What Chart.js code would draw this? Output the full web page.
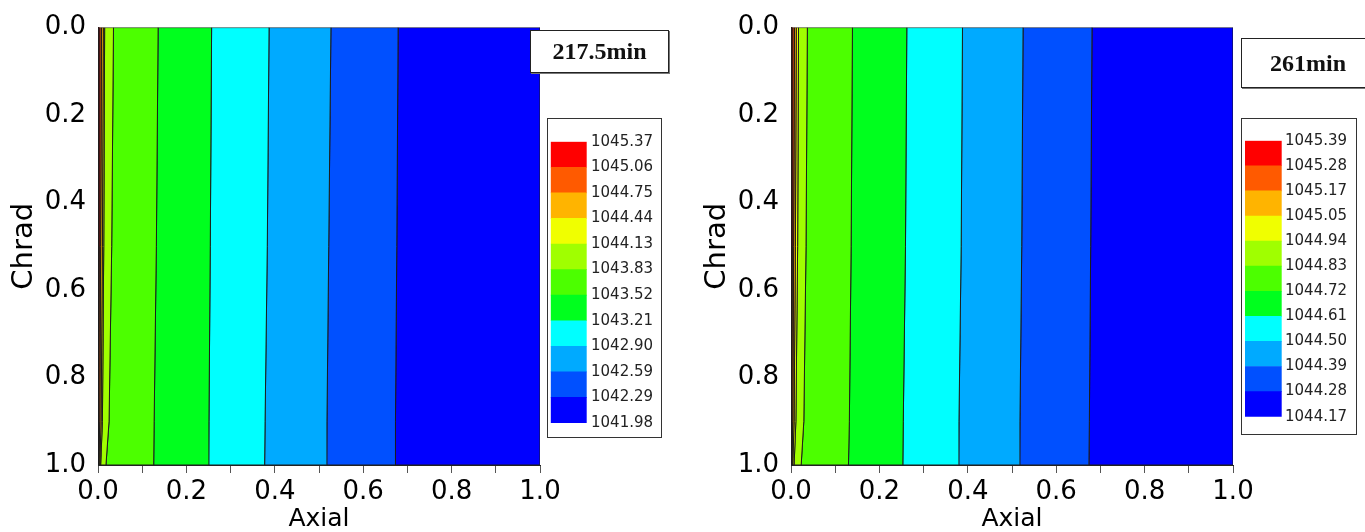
<!DOCTYPE html>
<html>
<head>
<meta charset="utf-8">
<script src="https://cdn.jsdelivr.net/npm/chart.js@4.4.1/dist/chart.umd.min.js"></script>
<style>
  html, body { margin: 0; padding: 0; background: #fff; }
  body { width: 1365px; height: 532px; position: relative; overflow: hidden; }
  canvas { position: absolute; }
  .stamp {
    position: absolute; box-sizing: border-box;
    border: 1px solid #222; box-shadow: 1px 1px 0 #777; background: #fff;
    font: bold 24px "Liberation Serif", "Times New Roman", serif; color: #111;
    display: flex; align-items: center; justify-content: center;
  }
  .keybox { position: absolute; box-sizing: border-box; border: 1px solid #333; background: #fff; }
</style>
</head>
<body>
<canvas id="plot217" width="578" height="532" style="left:0;top:0"></canvas>
<canvas id="plot261" width="578" height="532" style="left:693px;top:0"></canvas>

<div class="stamp" style="left:530px;top:30px;width:139px;height:43px">217.5min</div>
<div class="stamp" style="left:1241px;top:38px;width:134px;height:50px">261min</div>

<div class="keybox" style="left:547px;top:118px;width:115px;height:320px">
  <canvas id="key217" width="113" height="318" style="left:0;top:0"></canvas>
</div>
<div class="keybox" style="left:1241px;top:118px;width:116px;height:317px">
  <canvas id="key261" width="114" height="315" style="left:0;top:0"></canvas>
</div>

<script>
// contour band colours, hot side (left of plot / top of key) first
const bandColors = ['#ff0000', '#ff5a00', '#ffb400', '#f0ff00', '#a0ff00', '#4cff00',
                    '#00ff1e', '#00ffff', '#00aaff', '#0050ff', '#0000ff'];

const chradLevels = [0, 0.5, 0.9, 1];

// 217.5 min: axial position of the 10 contour lines at each chrad level
const lines217Top    = [0.004, 0.008, 0.012, 0.015, 0.035, 0.136, 0.257, 0.387, 0.527, 0.679];
const lines217Mid    = [0.003, 0.006, 0.010, 0.013, 0.031, 0.132, 0.254, 0.383, 0.522, 0.676];
const lines217Low    = [0.002, 0.004, 0.007, 0.010, 0.025, 0.127, 0.251, 0.378, 0.518, 0.673];
const lines217Bottom = [0.001, 0.002, 0.004, 0.006, 0.018, 0.126, 0.250, 0.377, 0.517, 0.672];

// 261 min
const lines261Top    = [0.004, 0.008, 0.012, 0.017, 0.037, 0.139, 0.262, 0.388, 0.525, 0.681];
const lines261Mid    = [0.003, 0.006, 0.010, 0.015, 0.034, 0.136, 0.259, 0.385, 0.522, 0.678];
const lines261Low    = [0.002, 0.004, 0.007, 0.011, 0.029, 0.132, 0.254, 0.380, 0.518, 0.675];
const lines261Bottom = [0.001, 0.002, 0.004, 0.007, 0.023, 0.130, 0.253, 0.379, 0.517, 0.674];

// colour key labels, bottom to top
const key217 = ['1041.98', '1042.29', '1042.59', '1042.90', '1043.21', '1043.52',
                '1043.83', '1044.13', '1044.44', '1044.75', '1045.06', '1045.37'];
const key261 = ['1044.17', '1044.28', '1044.39', '1044.50', '1044.61', '1044.72',
                '1044.83', '1044.94', '1045.05', '1045.17', '1045.28', '1045.39'];

const sans = 'DejaVu Sans';

// One closed polygon per colour band, between contour line k-1 and k.
function bandPolygons(rows) {
  const edge = (k) => {
    if (k < 0) return rows.map(() => 0);
    if (k >= rows[0].length) return rows.map(() => 1);
    return rows.map((r) => r[k]);
  };
  return bandColors.map((color, k) => {
    const left = edge(k - 1);
    const right = edge(k);
    const pts = [];
    chradLevels.forEach((y, i) => pts.push({ x: left[i], y }));
    for (let i = chradLevels.length - 1; i >= 0; i--) {
      pts.push({ x: right[i], y: chradLevels[i] });
    }
    pts.push({ x: left[0], y: chradLevels[0] });
    return {
      data: pts,
      backgroundColor: color,
      borderColor: '#1c1c1c',
      borderWidth: 1,
      fill: 'shape',
      pointRadius: 0,
      pointHoverRadius: 0,
      tension: 0,
    };
  });
}

function drawPanel(id, rows) {
  new Chart(document.getElementById(id), {
    type: 'line',
    data: { datasets: bandPolygons(rows) },
    options: {
      responsive: false,
      animation: false,
      events: [],
      layout: { padding: { left: 0, top: 25, right: 38, bottom: 0 } },
      plugins: { legend: { display: false }, tooltip: { enabled: false } },
      scales: {
        x: {
          type: 'linear', min: 0, max: 1,
          afterFit: (s) => { s.height = 67; },
          ticks: {
            stepSize: 0.1, autoSkip: false, maxRotation: 0, padding: 4, color: '#000',
            font: { family: sans, size: 26 },
            callback: (v) => (Math.round(v * 10) % 2 ? '' : v.toFixed(1)),
          },
          grid: { drawOnChartArea: false, drawTicks: true, tickLength: 8, color: '#555' },
          border: { color: '#222' },
          title: {
            display: true, text: 'Axial', color: '#000', padding: 0,
            font: { family: sans, size: 25, lineHeight: 1 },
          },
        },
        y: {
          type: 'linear', reverse: true, min: 0, max: 1,
          afterFit: (s) => { s.width = 98; },
          ticks: {
            stepSize: 0.2, padding: 12, color: '#000',
            font: { family: sans, size: 26 },
            callback: (v) => v.toFixed(1),
          },
          grid: { drawOnChartArea: false, drawTicks: false },
          border: { color: '#222' },
          title: {
            display: true, text: 'Chrad', color: '#000', padding: { top: 7, bottom: 0 },
            font: { family: sans, size: 29 },
          },
        },
      },
    },
  });
}

// Colour key: stacked single bar, labels at the band boundaries.
function drawKey(id, labels, pad, scaleWidth, labelPad) {
  const colorsUp = bandColors.slice().reverse();
  new Chart(document.getElementById(id), {
    type: 'bar',
    data: {
      labels: [''],
      datasets: colorsUp.map((c) => ({
        data: [1], backgroundColor: c, borderWidth: 0,
        barPercentage: 1, categoryPercentage: 1,
      })),
    },
    options: {
      responsive: false,
      animation: false,
      events: [],
      layout: { padding: pad },
      plugins: { legend: { display: false }, tooltip: { enabled: false } },
      scales: {
        x: { stacked: true, display: false },
        y: {
          stacked: true, position: 'right', min: 0, max: labels.length - 1,
          afterFit: (s) => { s.width = scaleWidth; },
          ticks: {
            stepSize: 1, autoSkip: false, padding: labelPad, color: '#222',
            font: { family: sans, size: 15 },
            callback: (v) => labels[v],
          },
          grid: { display: false, drawTicks: false },
          border: { display: false },
        },
      },
    },
  });
}

drawPanel('plot217', [lines217Top, lines217Mid, lines217Low, lines217Bottom]);
drawPanel('plot261', [lines261Top, lines261Mid, lines261Low, lines261Bottom]);
drawKey('key217', key217, { left: 2.7, top: 22.7, right: 0, bottom: 14 }, 74.3, 4.3);
drawKey('key261', key261, { left: 3, top: 21.7, right: 0, bottom: 17.3 }, 74.3, 3.3);
</script>
</body>
</html>
